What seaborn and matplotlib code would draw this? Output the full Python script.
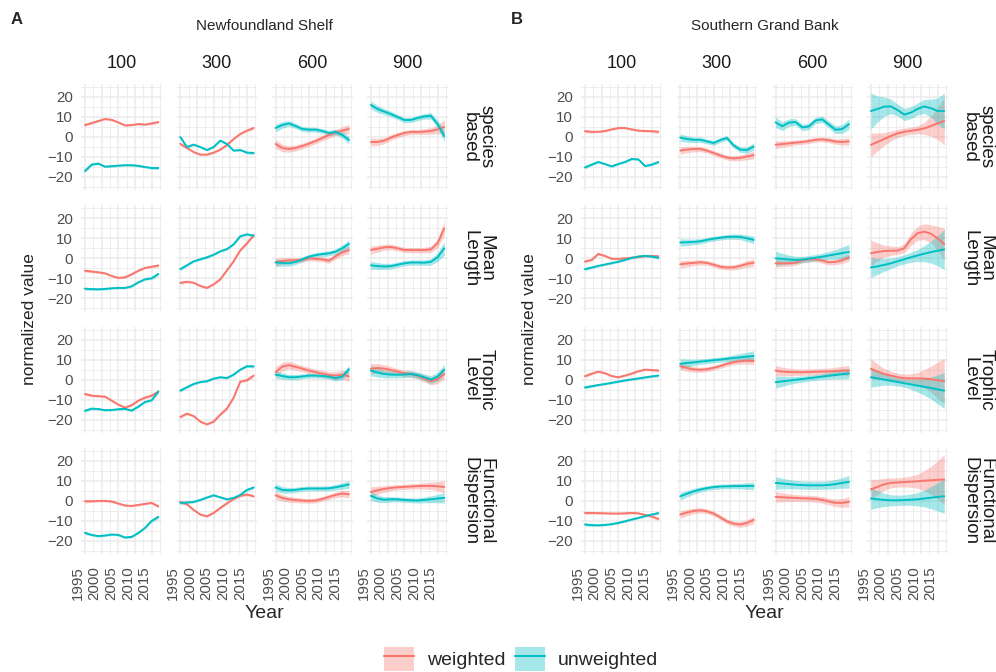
import numpy as np
import pandas as pd
import matplotlib.pyplot as plt
import seaborn as sns
from matplotlib.patches import Patch
from matplotlib.lines import Line2D

sns.set_style('white')
plt.rcParams['font.family'] = ['Liberation Sans', 'DejaVu Sans']

years = list(range(1995, 2018, 2))
depths = ['100', '300', '600', '900']
metrics = ['species\nbased', 'Mean\nLength', 'Trophic\nLevel', 'Functional\nDispersion']
series = ['weighted', 'unweighted']
colors = ['#F8766D', '#00BFC4']

# smoothed values, one list per depth (100, 300, 600, 900)
# ---- Newfoundland Shelf ----
nfs_species_w = [[6.0, 7.0, 8.0, 9.0, 8.6, 7.3, 5.8, 6.0, 6.5, 6.2, 6.8, 7.5],
                 [-3.4, -5.5, -7.5, -8.8, -8.8, -7.8, -6.3, -4.0, -1.0, 1.5, 3.2, 4.5],
                 [-3.5, -5.5, -6.0, -5.5, -4.5, -3.3, -2.0, -0.5, 1.0, 2.2, 3.2, 4.0],
                 [-2.5, -2.5, -1.8, -0.3, 1.0, 2.0, 2.5, 2.5, 2.7, 3.0, 3.8, 5.0]]
nfs_species_u = [[-17.0, -13.8, -13.3, -14.8, -14.6, -14.3, -14.1, -14.1, -14.4, -15.0, -15.5, -15.5],
                 [0.0, -5.0, -3.8, -5.0, -6.5, -5.0, -1.8, -3.5, -6.8, -6.5, -7.8, -8.0],
                 [4.5, 6.0, 6.8, 5.5, 4.0, 3.7, 3.7, 3.0, 2.0, 2.5, 1.0, -1.5],
                 [16.0, 14.0, 12.7, 11.5, 10.0, 8.5, 8.5, 9.5, 10.3, 10.6, 6.5, 0.5]]
nfs_length_w = [[-6.2, -6.6, -7.0, -7.5, -8.8, -9.8, -9.5, -8.0, -6.2, -4.8, -4.2, -3.6],
                [-12.3, -11.7, -12.2, -13.8, -14.8, -13.0, -10.5, -6.0, -1.5, 4.0, 7.5, 11.5],
                [-2.0, -1.3, -1.0, -1.0, -0.8, 0.0, -0.3, -0.5, -1.2, 1.0, 3.0, 4.1],
                [4.2, 4.8, 5.5, 5.7, 5.0, 4.2, 4.1, 4.1, 4.1, 4.5, 7.5, 15.0]]
nfs_length_u = [[-15.2, -15.4, -15.5, -15.3, -15.0, -14.8, -14.8, -14.0, -12.0, -10.5, -10.0, -7.8],
                [-5.4, -3.5, -1.5, -0.5, 0.5, 1.8, 3.5, 4.6, 7.0, 11.0, 12.0, 11.3],
                [-2.1, -2.3, -2.5, -1.8, -0.5, 0.8, 1.6, 2.1, 2.5, 3.3, 5.0, 7.2],
                [-3.5, -3.9, -4.1, -3.9, -3.2, -2.5, -2.1, -2.1, -2.2, -1.8, 0.5, 5.0]]
nfs_trophic_w = [[-7.2, -8.0, -8.3, -8.5, -10.5, -12.5, -14.0, -12.8, -10.5, -9.0, -8.0, -6.0],
                 [-18.7, -17.0, -18.2, -21.0, -22.4, -21.0, -17.5, -14.5, -9.0, -1.0, -0.3, 2.0],
                 [3.7, 6.5, 7.2, 6.4, 5.5, 4.5, 3.7, 3.0, 2.3, 2.0, 2.5, 1.6],
                 [5.4, 5.8, 5.5, 4.8, 4.0, 3.2, 2.8, 2.0, 0.5, -0.8, 0.2, 2.9]]
nfs_trophic_u = [[-15.6, -14.5, -14.7, -15.3, -15.2, -14.8, -14.6, -15.5, -13.5, -11.2, -10.3, -6.0],
                 [-5.5, -3.8, -2.2, -1.2, -0.8, 0.5, 1.2, 0.8, 2.5, 5.0, 6.7, 6.6],
                 [2.5, 1.8, 1.2, 1.2, 1.6, 2.0, 2.0, 1.8, 1.5, 0.7, 1.5, 5.2],
                 [4.5, 3.5, 2.8, 2.5, 2.4, 2.6, 2.8, 2.2, 1.2, 0.0, 1.5, 5.0]]
nfs_disp_w = [[-0.2, -0.2, 0.0, 0.0, -0.3, -1.3, -2.3, -2.5, -2.0, -1.5, -1.0, -2.7],
              [-0.5, -1.7, -4.5, -6.8, -7.7, -6.0, -3.5, -1.2, 1.0, 2.5, 3.2, 2.3],
              [2.8, 1.5, 0.8, 0.4, 0.2, 0.0, 0.2, 1.0, 2.0, 3.0, 3.7, 3.3],
              [4.5, 5.3, 6.0, 6.5, 6.8, 7.0, 7.2, 7.4, 7.5, 7.5, 7.3, 7.0]]
nfs_disp_u = [[-16.0, -17.0, -17.6, -17.3, -16.8, -17.0, -18.3, -18.0, -16.0, -13.5, -10.0, -8.0],
              [-1.0, -0.8, -0.5, 0.5, 1.7, 2.8, 1.8, 0.8, 1.5, 3.0, 5.5, 6.7],
              [6.7, 5.5, 5.3, 5.5, 6.0, 6.2, 6.2, 6.2, 6.3, 6.8, 7.5, 8.2],
              [2.5, 1.2, 0.6, 0.8, 0.8, 0.5, 0.3, 0.2, 0.5, 0.8, 1.2, 1.5]]

# ---- Southern Grand Bank ----
sgb_species_w = [[2.9, 2.6, 2.6, 3.0, 3.8, 4.5, 4.5, 3.8, 3.2, 3.0, 2.9, 2.6],
                 [-6.8, -6.3, -6.0, -6.0, -6.8, -8.0, -9.2, -10.3, -10.7, -10.4, -9.8, -9.0],
                 [-3.9, -3.5, -3.2, -2.8, -2.5, -2.0, -1.4, -1.2, -1.6, -2.3, -2.5, -2.2],
                 [-3.9, -2.5, -1.0, 0.5, 1.8, 2.6, 3.1, 3.6, 4.3, 5.5, 6.8, 8.0]]
sgb_species_u = [[-15.2, -13.8, -12.5, -13.5, -14.7, -13.5, -12.5, -11.0, -11.2, -14.5, -13.8, -12.5],
                 [-0.3, -1.0, -1.4, -1.4, -2.2, -3.0, -1.5, -0.5, -4.2, -6.3, -6.5, -4.8],
                 [7.3, 5.4, 7.2, 7.5, 4.8, 5.3, 8.3, 8.8, 6.2, 3.6, 4.0, 6.4],
                 [13.0, 14.0, 15.2, 15.3, 13.5, 11.2, 12.2, 14.0, 15.3, 14.4, 13.0, 13.0]]
sgb_length_w = [[-1.6, -0.8, 2.2, 1.2, -0.2, -0.3, 0.0, 0.3, 0.7, 1.1, 1.2, 1.0],
                [-3.0, -2.6, -2.3, -2.0, -2.3, -3.2, -4.2, -4.6, -4.5, -3.8, -2.8, -2.2],
                [-2.5, -2.5, -2.5, -2.2, -1.0, -0.5, -0.5, -1.2, -2.0, -1.8, -1.0, 0.5],
                [2.5, 3.2, 3.6, 3.8, 3.8, 5.0, 9.5, 12.5, 13.3, 12.3, 10.0, 7.0]]
sgb_length_u = [[-5.4, -4.6, -3.8, -3.1, -2.4, -1.7, -0.8, 0.2, 0.9, 1.2, 0.9, 0.3],
                [7.9, 8.0, 8.2, 8.5, 9.2, 9.8, 10.3, 10.7, 10.8, 10.7, 10.0, 9.2],
                [0.0, -0.3, -0.6, -0.8, -0.6, -0.2, 0.3, 0.8, 1.4, 2.0, 2.6, 3.2],
                [-4.6, -4.0, -3.3, -2.5, -1.5, -0.5, 0.5, 1.4, 2.3, 3.1, 3.8, 4.4]]
sgb_trophic_w = [[1.7, 3.0, 4.0, 3.2, 1.8, 1.2, 2.0, 3.0, 4.2, 5.0, 4.8, 4.5],
                 [6.7, 5.8, 5.1, 4.9, 5.2, 5.9, 6.8, 7.9, 8.7, 9.2, 9.5, 9.3],
                 [4.5, 4.0, 3.8, 3.7, 3.7, 3.8, 3.9, 4.0, 4.1, 4.3, 4.5, 4.5],
                 [5.4, 4.0, 2.8, 2.0, 1.2, 0.7, 0.6, 0.6, 0.5, 0.2, -0.3, -0.8]]
sgb_trophic_u = [[-3.9, -3.3, -2.7, -2.2, -1.6, -1.0, -0.4, 0.1, 0.6, 1.1, 1.6, 2.0],
                 [7.9, 8.3, 8.6, 9.0, 9.3, 9.7, 10.0, 10.4, 10.8, 11.1, 11.5, 11.8],
                 [-1.3, -0.9, -0.5, -0.1, 0.3, 0.7, 1.1, 1.5, 1.9, 2.3, 2.7, 3.1],
                 [1.2, 0.6, 0.0, -0.6, -1.2, -1.8, -2.4, -3.0, -3.6, -4.2, -4.9, -5.5]]
sgb_disp_w = [[-6.0, -6.0, -6.1, -6.2, -6.3, -6.3, -6.2, -6.0, -6.2, -7.0, -7.8, -9.0],
              [-6.8, -5.8, -5.0, -4.7, -5.2, -6.3, -8.2, -10.2, -11.4, -11.8, -11.0, -9.5],
              [2.0, 1.8, 1.6, 1.5, 1.3, 1.2, 1.0, 0.5, -0.3, -1.0, -1.0, -0.5],
              [5.8, 7.0, 8.3, 9.0, 9.2, 9.4, 9.6, 9.8, 10.1, 10.3, 10.5, 10.7]]
sgb_disp_u = [[-11.8, -12.1, -12.2, -12.0, -11.6, -11.0, -10.2, -9.3, -8.5, -7.6, -6.8, -6.1],
              [2.3, 3.6, 4.8, 5.7, 6.4, 6.9, 7.2, 7.3, 7.4, 7.4, 7.5, 7.5],
              [9.0, 8.7, 8.4, 8.1, 7.9, 7.8, 7.8, 7.8, 8.0, 8.4, 9.0, 9.5],
              [1.2, 0.8, 0.5, 0.3, 0.3, 0.4, 0.6, 0.8, 1.2, 1.6, 2.0, 2.3]]

# confidence band half-widths
ci_thin = [0.8, 0.6, 0.5, 0.5, 0.5, 0.5, 0.5, 0.5, 0.5, 0.5, 0.6, 0.8]
ci_mid = [1.9, 1.6, 1.4, 1.3, 1.2, 1.2, 1.2, 1.2, 1.3, 1.4, 1.6, 1.9]
ci_wide = [2.6, 2.2, 1.9, 1.7, 1.6, 1.6, 1.6, 1.6, 1.7, 1.9, 2.2, 2.6]

nfs_species_w_ci = [ci_thin, ci_thin, [2.2, 1.8, 1.6, 1.5, 1.4, 1.4, 1.4, 1.4, 1.5, 1.6, 1.9, 2.3],
                    [2.0, 1.7, 1.5, 1.4, 1.3, 1.3, 1.3, 1.3, 1.4, 1.6, 2.2, 3.5]]
nfs_species_u_ci = [ci_thin, ci_thin, ci_mid, [2.0, 1.7, 1.5, 1.4, 1.3, 1.3, 1.3, 1.3, 1.4, 1.6, 2.0, 2.8]]
nfs_length_w_ci = [ci_thin, ci_thin, ci_mid, [2.0, 1.7, 1.5, 1.4, 1.3, 1.3, 1.3, 1.3, 1.4, 1.6, 2.2, 3.5]]
nfs_length_u_ci = [ci_thin, ci_thin, ci_mid, [2.0, 1.7, 1.5, 1.4, 1.3, 1.3, 1.3, 1.3, 1.4, 1.6, 2.2, 3.5]]
nfs_trophic_w_ci = [ci_thin, ci_thin, ci_wide, ci_wide]
nfs_trophic_u_ci = [ci_thin, ci_thin, ci_mid, ci_wide]
nfs_disp_w_ci = [ci_thin, ci_thin, ci_mid, [2.6, 2.0, 1.6, 1.4, 1.3, 1.3, 1.3, 1.4, 1.5, 1.8, 2.3, 3.0]]
nfs_disp_u_ci = [ci_thin, ci_thin, ci_mid, [2.4, 1.8, 1.5, 1.3, 1.2, 1.2, 1.2, 1.3, 1.4, 1.7, 2.1, 2.6]]

sgb_species_w_ci = [ci_thin, ci_mid, ci_mid, [6.0, 4.5, 3.2, 2.5, 2.0, 1.8, 1.8, 2.0, 3.0, 5.0, 8.0, 12.0]]
sgb_species_u_ci = [ci_thin, ci_mid, ci_wide, [9.0, 6.5, 4.8, 3.6, 3.0, 3.0, 3.0, 3.0, 3.5, 4.5, 6.5, 9.0]]
sgb_length_w_ci = [ci_thin, ci_mid, ci_mid, [6.5, 4.5, 3.0, 2.3, 2.0, 2.2, 3.0, 3.5, 4.0, 4.5, 6.0, 8.0]]
sgb_length_u_ci = [ci_thin, ci_mid, [3.5, 2.8, 2.2, 1.8, 1.6, 1.6, 1.6, 1.8, 2.0, 2.4, 3.0, 3.8],
                   [5.0, 4.0, 3.2, 2.6, 2.3, 2.3, 2.5, 3.0, 4.0, 5.5, 7.5, 10.0]]
sgb_trophic_w_ci = [ci_thin, ci_mid, ci_wide, [5.0, 3.8, 2.8, 2.2, 2.0, 2.0, 2.3, 3.0, 4.5, 6.5, 9.0, 11.5]]
sgb_trophic_u_ci = [ci_thin, [2.5, 2.0, 1.6, 1.4, 1.3, 1.3, 1.3, 1.4, 1.6, 1.9, 2.2, 2.6],
                    [3.0, 2.5, 2.0, 1.7, 1.5, 1.4, 1.4, 1.5, 1.7, 2.0, 2.3, 2.7],
                    [5.0, 3.8, 2.8, 2.2, 2.0, 2.0, 2.4, 3.2, 4.2, 5.5, 7.2, 9.0]]
sgb_disp_w_ci = [ci_thin, ci_mid, ci_wide, [5.0, 3.8, 3.0, 2.5, 2.3, 2.4, 2.8, 3.5, 5.0, 7.0, 9.5, 12.5]]
sgb_disp_u_ci = [ci_thin, ci_mid, [3.2, 2.6, 2.3, 2.1, 2.0, 2.0, 2.0, 2.0, 2.1, 2.3, 2.6, 3.2],
                 [5.5, 4.2, 3.3, 2.8, 2.6, 2.6, 2.8, 3.3, 4.2, 5.5, 7.0, 8.5]]

regions = [
    ('A', 'Newfoundland Shelf',
     [nfs_species_w, nfs_length_w, nfs_trophic_w, nfs_disp_w],
     [nfs_species_u, nfs_length_u, nfs_trophic_u, nfs_disp_u],
     [nfs_species_w_ci, nfs_length_w_ci, nfs_trophic_w_ci, nfs_disp_w_ci],
     [nfs_species_u_ci, nfs_length_u_ci, nfs_trophic_u_ci, nfs_disp_u_ci]),
    ('B', 'Southern Grand Bank',
     [sgb_species_w, sgb_length_w, sgb_trophic_w, sgb_disp_w],
     [sgb_species_u, sgb_length_u, sgb_trophic_u, sgb_disp_u],
     [sgb_species_w_ci, sgb_length_w_ci, sgb_trophic_w_ci, sgb_disp_w_ci],
     [sgb_species_u_ci, sgb_length_u_ci, sgb_trophic_u_ci, sgb_disp_u_ci]),
]

# long table: each point stored as (value - ci, value, value + ci) so seaborn draws the band
rows = []
for tag, name, w_all, u_all, wci_all, uci_all in regions:
    for i, metric in enumerate(metrics):
        for j, depth in enumerate(depths):
            for s, vals, cis in [('weighted', w_all[i][j], wci_all[i][j]),
                                 ('unweighted', u_all[i][j], uci_all[i][j])]:
                for yr, v, b in zip(years, vals, cis):
                    for off in (-b, 0.0, b):
                        rows.append((name, metric, depth, s, yr, v + off))
df = pd.DataFrame(rows, columns=['region', 'metric', 'depth', 'series', 'Year', 'value'])

W, H = 996, 672
fig = plt.figure(figsize=(W / 100, H / 100), dpi=100)


def fx(x):
    return x / W


def fy(y):
    return 1 - y / H


pw, ph = 80.7, 106
grid_c = '#EBEBEB'

for k, (tag, name, *_rest) in enumerate(regions):
    x0 = 81.3 + 500 * k
    for i, metric in enumerate(metrics):
        top = 84 + 121.3 * i
        for j, depth in enumerate(depths):
            left = x0 + 95.3 * j
            ax = fig.add_axes([fx(left), fy(top + ph), pw / W, ph / H])
            sub = df[(df.region == name) & (df.metric == metric) & (df.depth == depth)]
            sns.lineplot(data=sub, x='Year', y='value', hue='series', hue_order=series,
                         palette=colors, estimator='mean',
                         errorbar=lambda v: (v.min(), v.max()),
                         err_kws=dict(alpha=0.35, linewidth=0), linewidth=1.4,
                         legend=False, ax=ax)
            ax.set_xlim(1993.9, 2018.1)
            ax.set_ylim(-26.5, 26.5)
            ax.set_xticks([1995, 2000, 2005, 2010, 2015])
            ax.set_xticks([1997.5, 2002.5, 2007.5, 2012.5, 2017.5], minor=True)
            ax.set_yticks([-20, -10, 0, 10, 20])
            ax.set_yticks([-25, -15, -5, 5, 15, 25], minor=True)
            ax.grid(which='major', color=grid_c, linewidth=1.1)
            ax.grid(which='minor', color=grid_c, linewidth=0.6)
            ax.set_axisbelow(True)
            for sp in ax.spines.values():
                sp.set_visible(False)
            ax.set_xlabel('')
            ax.set_ylabel('')
            ax.tick_params(which='both', length=0, labelsize=10.8, labelcolor='#4D4D4D')
            ax.tick_params(axis='y', pad=6)
            ax.tick_params(axis='x', pad=9)
            if j > 0:
                ax.set_yticklabels([])
            if i < 3:
                ax.set_xticklabels([])
            else:
                for lab in ax.get_xticklabels():
                    lab.set_rotation(90)
                    lab.set_ha('right')
                    lab.set_va('top')
            if i == 0:
                fig.text(fx(left + pw / 2), fy(63), depth, ha='center', va='center',
                         fontsize=13, color='#1A1A1A')
            if j == 3:
                fig.text(fx(left + pw + 30), fy(top + ph / 2), metric, rotation=-90,
                         ha='center', va='center', fontsize=13.5, color='#1A1A1A',
                         linespacing=0.95)
    cx = x0 + (3 * 95.3 + pw) / 2
    fig.text(fx(cx), fy(26), name, ha='center', va='center', fontsize=11)
    fig.text(fx(17 + 500 * k), fy(20), tag, ha='center', va='center', fontsize=12,
             fontweight='bold')
    fig.text(fx(30 + 500 * k), fy(319), 'normalized value', rotation=90,
             ha='center', va='center', fontsize=12.5)
    fig.text(fx(cx), fy(614), 'Year', ha='center', va='center', fontsize=14)

handles = [(Patch(facecolor=c, alpha=0.35, edgecolor='none'), Line2D([], [], color=c, lw=1.5))
           for c in colors]
fig.legend(handles=handles, labels=series, loc='center', bbox_to_anchor=(fx(521), fy(659)),
           ncol=2, frameon=False, fontsize=14, handlelength=1.55, handleheight=1.45,
           handletextpad=0.65, columnspacing=0.5)

fig.savefig('out.png', dpi=100)
